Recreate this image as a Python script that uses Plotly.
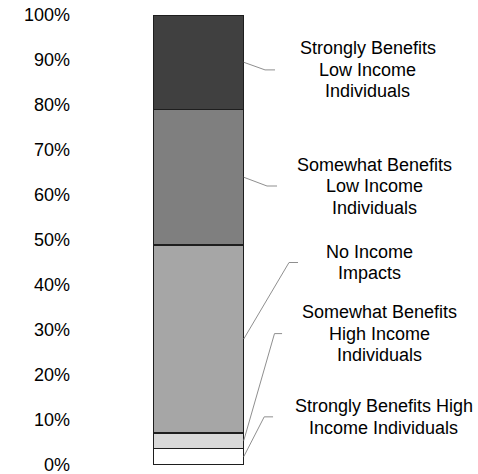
import plotly.graph_objects as go

# Share of responses by income-impact category (percent of total)
categories = [
    "Strongly Benefits High Income Individuals",
    "Somewhat Benefits High Income Individuals",
    "No Income Impacts",
    "Somewhat Benefits Low Income Individuals",
    "Strongly Benefits Low Income Individuals",
]
shares = [3.7, 3.4, 41.8, 30.1, 21.0]
fill_colors = ["#ffffff", "#d9d9d9", "#a6a6a6", "#7f7f7f", "#404040"]

# Label text, split into display lines
label_lines = [
    ["Strongly Benefits High", "Income Individuals"],
    ["Somewhat Benefits", "High Income", "Individuals"],
    ["No Income", "Impacts"],
    ["Somewhat Benefits", "Low Income", "Individuals"],
    ["Strongly Benefits", "Low Income", "Individuals"],
]
# Label placement (x in bar-width units from bar centre, y in percent)
label_x = [2.05, 2.00, 1.895, 1.95, 1.873]
label_y = [10.7, 29.2, 45.0, 62.0, 87.8]
# Leader line elbow / end x positions
elbow_x = [0.727, 0.841, 1.002, 0.758, 0.736]
end_x = [0.825, 0.925, 1.102, 0.869, 0.847]

tick_vals = list(range(0, 101, 10))
tick_text = [f"{v}%" for v in tick_vals]

FONT = "Liberation Sans, Arial, sans-serif"
LINE_STEP = 21.5  # px between label lines

fig = go.Figure()

for name, val, col in zip(categories, shares, fill_colors):
    fig.add_trace(go.Bar(
        x=[0], y=[val], width=1, name=name,
        marker=dict(color=col, line=dict(color="#1e1e1e", width=1.3)),
        showlegend=False, hoverinfo="skip",
    ))

# Leader lines from each segment's midpoint to its label
base = 0.0
for i, val in enumerate(shares):
    mid = base + val / 2
    base += val
    fig.add_trace(go.Scatter(
        x=[0.5, elbow_x[i], end_x[i]],
        y=[mid, label_y[i], label_y[i]],
        mode="lines", line=dict(color="#8f8f8f", width=1),
        showlegend=False, hoverinfo="skip", cliponaxis=False,
    ))

# Multi-line labels
for i, lines in enumerate(label_lines):
    n = len(lines)
    for j, txt in enumerate(lines):
        fig.add_annotation(
            x=label_x[i], y=label_y[i], text=txt, showarrow=False,
            xanchor="center", yanchor="middle",
            yshift=((n - 1) / 2 - j) * LINE_STEP,
            font=dict(family=FONT, size=18, color="#000000"),
        )

# x range chosen so the bar spans its column with room for labels
x_left = -1.415
x_right = x_left + (478 - 71) / 90.2

fig.update_layout(
    barmode="stack",
    width=478, height=474,
    margin=dict(l=71, r=0, t=14.5, b=8.5),
    paper_bgcolor="white", plot_bgcolor="white",
    font=dict(family=FONT, size=18, color="#000000"),
    xaxis=dict(range=[x_left, x_right], visible=False, fixedrange=True),
    yaxis=dict(
        range=[0, 100], tickvals=tick_vals, ticktext=tick_text,
        showgrid=False, zeroline=False, showline=False, ticks="",
        ticklabeloverflow="allow",
        tickfont=dict(family=FONT, size=18, color="#000000"),
        fixedrange=True,
    ),
)

fig.write_html("out.html")
